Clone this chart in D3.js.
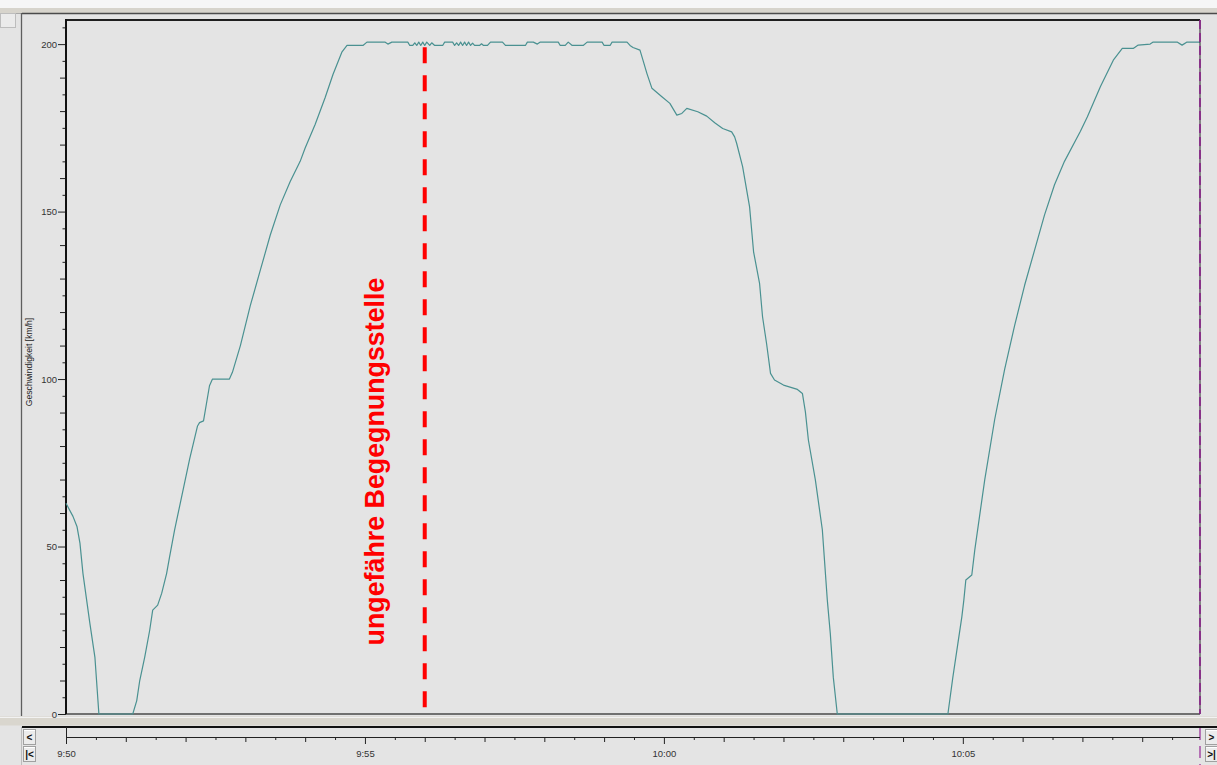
<!DOCTYPE html>
<html><head><meta charset="utf-8">
<script src="https://cdn.jsdelivr.net/npm/d3@7"></script>
<style>body{margin:0;background:#e4e4e4;overflow:hidden}svg{display:block}</style>
</head><body><svg id="c" width="1217" height="765"></svg>
<script>
// ---- data ----
const times = ["9:50:00","9:50:07","9:50:11","9:50:14","9:50:17","9:50:24","9:50:29","9:50:33","9:51:07","9:51:11","9:51:14","9:51:19","9:51:24","9:51:27","9:51:32","9:51:36","9:51:41","9:51:44","9:51:49","9:51:54","9:52:04","9:52:12","9:52:14","9:52:18","9:52:24","9:52:27","9:52:44","9:52:47","9:52:55","9:53:05","9:53:15","9:53:25","9:53:35","9:53:45","9:53:55","9:54:00","9:54:10","9:54:20","9:54:28","9:54:37","9:54:42","9:54:58","9:55:02","9:55:20","9:55:23","9:55:27","9:55:43","9:55:45","9:55:48","9:55:50","9:55:52","9:55:54","9:55:56","9:55:58","9:56:00","9:56:02","9:56:05","9:56:07","9:56:10","9:56:13","9:56:18","9:56:20","9:56:28","9:56:30","9:56:32","9:56:34","9:56:36","9:56:38","9:56:40","9:56:42","9:56:44","9:56:46","9:56:48","9:56:50","9:56:55","9:56:57","9:56:59","9:57:03","9:57:06","9:57:18","9:57:21","9:57:41","9:57:43","9:57:49","9:57:53","9:57:56","9:58:14","9:58:16","9:58:21","9:58:24","9:58:28","9:58:39","9:58:43","9:58:58","9:59:00","9:59:06","9:59:08","9:59:23","9:59:26","9:59:29","9:59:36","9:59:39","9:59:43","9:59:48","9:59:58","10:00:06","10:00:13","10:00:18","10:00:23","10:00:34","10:00:43","10:00:51","10:00:59","10:01:08","10:01:11","10:01:13","10:01:19","10:01:26","10:01:30","10:01:36","10:01:39","10:01:43","10:01:47","10:01:51","10:02:00","10:02:14","10:02:19","10:02:22","10:02:25","10:02:32","10:02:39","10:02:44","10:02:47","10:02:50","10:02:54","10:04:45","10:04:50","10:04:55","10:04:59","10:05:01","10:05:03","10:05:09","10:05:12","10:05:22","10:05:32","10:05:42","10:05:52","10:06:02","10:06:12","10:06:22","10:06:32","10:06:42","10:06:58","10:07:05","10:07:18","10:07:31","10:07:40","10:07:51","10:07:56","10:08:08","10:08:11","10:08:35","10:08:40","10:08:45","10:08:58"];
const speeds = [62.9,59,56,51,42,27,17,0,0,4,10,17,25,31,32.5,36,42,47,55,62,76,86,87,87.5,98,100,100,102,110,122,132.5,143,152,159,165,169,176,184,191,197.7,199.6,199.6,200.6,200.6,200,200.6,200.6,199.6,199.6,200.4,199.6,200.6,199.6,200.6,199.6,200.6,199.6,200.4,199.6,199.6,199.6,200.6,200.6,199.6,200.4,199.6,200.6,199.6,200.6,199.6,200.6,199.6,200.3,199.6,199.6,200.1,199.6,199.6,200.6,200.6,199.6,199.6,200.6,200.6,200,200.6,200.6,199.6,199.6,200.6,199.6,199.6,200.6,200.6,199.6,199.6,200.6,200.6,199.6,199,198.2,195.2,191.2,186.8,184.3,182.3,178.8,179.3,180.8,179.8,178.5,176.5,174.8,173.8,172.3,170.4,163.4,151.4,138,128.6,118.6,110.7,101.7,99.7,98.2,96.9,95.7,90.2,81.8,69.9,55,34,24,11,0,0,11,21,29,34,40,41.5,49,70,88,103,116,128,138.5,149,158,165,174,178.3,187.3,195.2,198.7,198.7,199.7,200,200.6,200.6,199.7,200.6,200.6];
const yTickLabels = [0, 50, 100, 150, 200];
const xTickLabels = ["9:50", "9:55", "10:00", "10:05"];
const yAxisTitle = "Geschwindigkeit [km/h]";
const markerTime = "9:56:00";
const markerRange = [1.8, 199.1];
const markerLabel = "ungefähre Begegnungsstelle";
const timeDomain = ["9:50:00", "10:08:58"];
const speedMax = 207.2;

// ---- setup ----
const W = 1217, H = 765;
const P = {left: 66, right: 1200, top: 20, bottom: 714};
const parse = d3.timeParse("%H:%M:%S");
const x = d3.scaleTime().domain(timeDomain.map(parse)).range([P.left, P.right]);
const y = d3.scaleLinear().domain([0, speedMax]).range([P.bottom, P.top]);
const svg = d3.select("#c");
const FONT = "Liberation Sans, Arial, sans-serif";

// window chrome
svg.append("rect").attr("x", 0).attr("y", 0).attr("width", W).attr("height", 8).attr("fill", "#f6f6f6");
svg.append("rect").attr("x", 0).attr("y", 8).attr("width", W).attr("height", 5).attr("fill", "#d7d4cc");
svg.append("line").attr("x1", 0).attr("x2", 22).attr("y1", 13.5).attr("y2", 13.5).attr("stroke", "#a8a8a8");
svg.append("line").attr("x1", 22).attr("x2", W).attr("y1", 13.5).attr("y2", 13.5).attr("stroke", "#4a4a4a").attr("stroke-width", 1.3);
svg.append("rect").attr("x", 0.5).attr("y", 13.5).attr("width", 15).attr("height", 14).attr("fill", "#ebebeb").attr("stroke", "#bdbdbd");
svg.append("line").attr("x1", 21.5).attr("x2", 21.5).attr("y1", 13).attr("y2", 716).attr("stroke", "#5e5e5e").attr("stroke-width", 1.3);
svg.append("line").attr("x1", 21.5).attr("x2", 21.5).attr("y1", 727).attr("y2", H).attr("stroke", "#bdbdbd");

// separator band
svg.append("rect").attr("x", 0).attr("y", 716.5).attr("width", W).attr("height", 9).attr("fill", "#d9d6ce");
svg.append("line").attr("x1", 0).attr("x2", W).attr("y1", 717.5).attr("y2", 717.5).attr("stroke", "#f2f2f2");
svg.append("line").attr("x1", 22).attr("x2", W).attr("y1", 727).attr("y2", 727).attr("stroke", "#111").attr("stroke-width", 2);

// plot borders
const g = svg.append("g");
g.append("line").attr("x1", P.left).attr("x2", P.right).attr("y1", P.top).attr("y2", P.top).attr("stroke", "#1e1e1e").attr("stroke-width", 1.8);
g.append("line").attr("x1", P.left).attr("x2", P.right).attr("y1", P.bottom).attr("y2", P.bottom).attr("stroke", "#707070").attr("stroke-width", 1.8);

// y axis
const yTicks = d3.range(0, speedMax, 5);
const yAxis = d3.axisLeft(y).tickValues(yTicks)
  .tickSize(0).tickPadding(9)
  .tickFormat(d => yTickLabels.includes(d) ? String(d) : "");
const ya = g.append("g").attr("transform", `translate(${P.left},0)`).call(yAxis);
ya.select(".domain").remove();
ya.selectAll(".tick line").attr("x2", d => d % 50 === 0 ? -8 : (d % 10 === 0 ? -6 : -3.5)).attr("stroke", "#222").attr("stroke-width", 1);
ya.selectAll(".tick text").attr("font-family", FONT).attr("font-size", 9.5).attr("fill", "#333");
g.append("line").attr("x1", P.left).attr("x2", P.left).attr("y1", P.top - 1).attr("y2", P.bottom).attr("stroke", "#111").attr("stroke-width", 2);

svg.append("text").attr("transform", `translate(32,362) rotate(-90)`)
  .attr("text-anchor", "middle").attr("font-family", FONT).attr("font-size", 8.6).attr("fill", "#222").text(yAxisTitle);

// speed line
const data = times.map((t, i) => ({t: parse(t), v: speeds[i]}));
g.append("path").datum(data)
  .attr("d", d3.line().x(d => x(d.t)).y(d => y(d.v)))
  .attr("fill", "none").attr("stroke", "#4a9191").attr("stroke-width", 1.2).attr("stroke-linejoin", "round");

// right border with purple cursor
g.append("line").attr("x1", P.right).attr("x2", P.right).attr("y1", P.top).attr("y2", P.bottom).attr("stroke", "#222").attr("stroke-width", 1);
g.append("line").attr("x1", P.right).attr("x2", P.right).attr("y1", P.top).attr("y2", P.bottom).attr("stroke", "#8a1f8a").attr("stroke-width", 1.6).attr("stroke-dasharray", "9,4");
svg.append("line").attr("x1", P.right).attr("x2", P.right).attr("y1", 728).attr("y2", H).attr("stroke", "#a040a0").attr("stroke-width", 1.4).attr("stroke-dasharray", "12,6");

// marker
const mx = x(parse(markerTime));
g.append("line").attr("x1", mx).attr("x2", mx).attr("y1", y(markerRange[1])).attr("y2", y(markerRange[0]))
  .attr("stroke", "#ff0000").attr("stroke-width", 4).attr("stroke-dasharray", "16,12");
g.append("text").attr("transform", `translate(${mx - 41},${(y(markerRange[0]) + y(markerRange[1])) / 2 + 84}) rotate(-90)`)
  .attr("text-anchor", "middle").attr("font-family", FONT).attr("font-weight", "bold").attr("font-size", 26.8)
  .attr("fill", "#ff0000").text(markerLabel);

// x axis panel
const axY = 737;
const xTicks = d3.timeSecond.every(30).range(x.domain()[0], x.domain()[1]);
const hm = d3.timeFormat("%-H:%M");
const isLabel = d => d.getSeconds() === 0 && xTickLabels.includes(hm(d));
const xAxis = d3.axisBottom(x).tickValues(xTicks).tickSize(0).tickPadding(13)
  .tickFormat(d => isLabel(d) ? hm(d) : "");
const xa = svg.append("g").attr("transform", `translate(0,${axY})`).call(xAxis);
xa.select(".domain").remove();
xa.selectAll(".tick line").attr("y2", d => isLabel(d) ? 7 : (d.getSeconds() === 0 ? 5 : 3)).attr("stroke", "#222");
xa.selectAll(".tick text").attr("font-family", FONT).attr("font-size", 9.5).attr("fill", "#333");
svg.append("line").attr("x1", P.left).attr("x2", P.right).attr("y1", axY + 0.5).attr("y2", axY + 0.5).attr("stroke", "#222");
svg.append("line").attr("x1", P.left + 0.5).attr("x2", P.left + 0.5).attr("y1", 727).attr("y2", axY + 7).attr("stroke", "#222");

// buttons
function btn(bx, by, label) {
  const b = svg.append("g").attr("transform", `translate(${bx},${by})`);
  b.append("rect").attr("x", 0.5).attr("y", 0.5).attr("width", 12).attr("height", 15).attr("fill", "#ececec").attr("stroke", "#a0a0a0");
  b.append("line").attr("x1", 1).attr("x2", 12).attr("y1", 1.5).attr("y2", 1.5).attr("stroke", "#fff");
  b.append("text").attr("x", 6.5).attr("y", 12).attr("text-anchor", "middle").attr("font-family", FONT).attr("font-weight", "bold").attr("font-size", 10).attr("fill", "#111").text(label);
}
btn(23, 729, "<"); btn(23, 746, "|<"); btn(1205, 729, ">"); btn(1205, 746, ">|");
</script></body></html>
